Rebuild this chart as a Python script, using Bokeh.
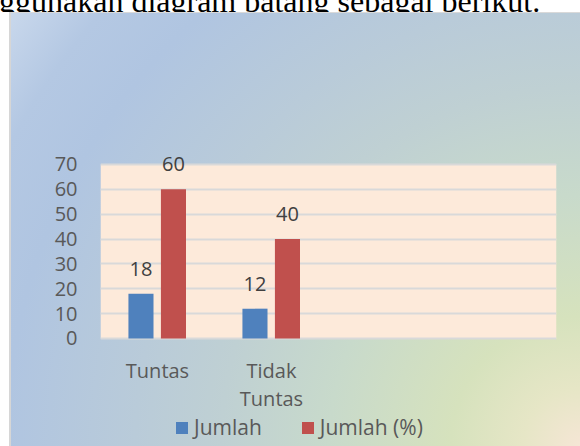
from bokeh.plotting import figure
from bokeh.models import (ColumnDataSource, FactorRange, FixedTicker, LabelSet,
                          Div, Legend, LegendItem, BoxAnnotation, Range1d)
from bokeh.core.properties import value
from bokeh.layouts import column
from bokeh.transform import dodge
from bokeh.embed import file_html
from bokeh.resources import INLINE

# ---- data ----
categories = ["Tuntas", "Tidak\nTuntas"]
axis_factors = ["Tuntas", "Tidak\nTuntas", " ", "  "]
jumlah = [18, 12]
jumlah_persen = [60, 40]
y_ticks = [0, 10, 20, 30, 40, 50, 60, 70]
series_names = ["Jumlah", "Jumlah (%)"]
intro_text = "ggunakan diagram batang sebagai berikut."

src = ColumnDataSource(dict(
    cat=categories,
    jumlah=jumlah,
    persen=jumlah_persen,
    jumlah_lbl=[str(v) for v in jumlah],
    persen_lbl=[str(v) for v in jumlah_persen],
))

FONT = "Open Sans"
GRAY = "#595959"

# frame spans the full height; axis range chosen so that 0..70 sits at the plot area
p = figure(
    x_range=FactorRange(factors=axis_factors, range_padding=0, factor_padding=0),
    y_range=Range1d(-43.45, 131.15),
    width=580, height=434,
    output_backend="svg", toolbar_location=None,
    min_border_left=100, min_border_right=24, min_border_top=0, min_border_bottom=0,
)
p.margin = (0, 0, 0, 0)
p.border_fill_alpha = 0
p.background_fill_alpha = 0
p.outline_line_color = None
p.styles = {
    "background":
        "linear-gradient(#d6d6d6,#d6d6d6) 9px 0 / 2px 100% no-repeat, "
        "linear-gradient(#d9d9d9,#d9d9d9) 9px 0 / 100% 1px no-repeat, "
        "radial-gradient(circle farthest-corner at 100% 100%, "
        "#f5e6d5 0%, #e6e6c6 8%, #d6e2bd 18%, #c8dacb 35%, #bfd0d3 50%, "
        "#b9cbd9 62%, #b0c5e1 80%, #b4c8e3 90%, #c9d8ec 100%) 9px 0 / 571px 434px no-repeat, "
        "#ffffff",
}

# peach plot area 0..70
p.add_layout(BoxAnnotation(bottom=y_ticks[0], top=y_ticks[-1], fill_color="#fdeada",
                           fill_alpha=1, line_color=None, level="image"))

b1 = p.vbar(x=dodge("cat", -0.145, range=p.x_range), top="jumlah", width=0.22,
            source=src, fill_color="#4f81bd", line_color=None)
b2 = p.vbar(x=dodge("cat", 0.14, range=p.x_range), top="persen", width=0.22,
            source=src, fill_color="#c0504d", line_color=None)

for col, lbl, off in (("jumlah", "jumlah_lbl", -0.145), ("persen", "persen_lbl", 0.14)):
    p.add_layout(LabelSet(x=dodge("cat", off, range=p.x_range), y=col, text=lbl,
                          source=src, y_offset=25, text_align="center",
                          text_baseline="middle", text_font=value(FONT),
                          text_font_size=value("20px"), text_color=value("#404040")))

# grid
p.xgrid.grid_line_color = None
p.ygrid.ticker = FixedTicker(ticks=y_ticks)
p.ygrid.grid_line_color = "#d9d9d9"
p.ygrid.grid_line_width = 2

# axes
p.yaxis.ticker = FixedTicker(ticks=y_ticks)
p.yaxis.axis_line_color = None
p.yaxis.major_tick_line_color = None
p.yaxis.minor_tick_line_color = None
p.yaxis.major_tick_out = 0
p.yaxis.major_tick_in = 0
p.yaxis.major_label_standoff = 23
p.yaxis.major_label_text_font = FONT
p.yaxis.major_label_text_font_size = "20px"
p.yaxis.major_label_text_color = GRAY

p.xaxis.fixed_location = 0
p.xaxis.axis_line_color = None
p.xaxis.major_tick_line_color = None
p.xaxis.major_tick_out = 0
p.xaxis.major_tick_in = 0
p.xaxis.major_label_standoff = 19
p.xaxis.major_label_text_font = FONT
p.xaxis.major_label_text_font_size = "20px"
p.xaxis.major_label_text_color = GRAY
p.xaxis.major_label_text_line_height = 1.03

legend = Legend(items=[LegendItem(label=series_names[0], renderers=[b1]),
                       LegendItem(label=series_names[1], renderers=[b2])],
                location=(74, 5), orientation="horizontal",
                glyph_width=15, glyph_height=15, label_standoff=5, spacing=38,
                padding=0, margin=0, background_fill_alpha=0,
                border_line_color=None, label_text_font=FONT,
                label_text_font_size="21px", label_text_color=GRAY)
p.add_layout(legend)

div = Div(text=f"<div style=\"margin-top:-23px;margin-left:-1px;font-family:'Liberation Serif';"
               f"font-size:32px;line-height:32px;white-space:nowrap;color:#000;\">{intro_text}</div>",
          width=580, height=12, margin=(0, 0, 0, 0))

layout = column(div, p, spacing=0)
open("out.html", "w").write(file_html(layout, INLINE))
